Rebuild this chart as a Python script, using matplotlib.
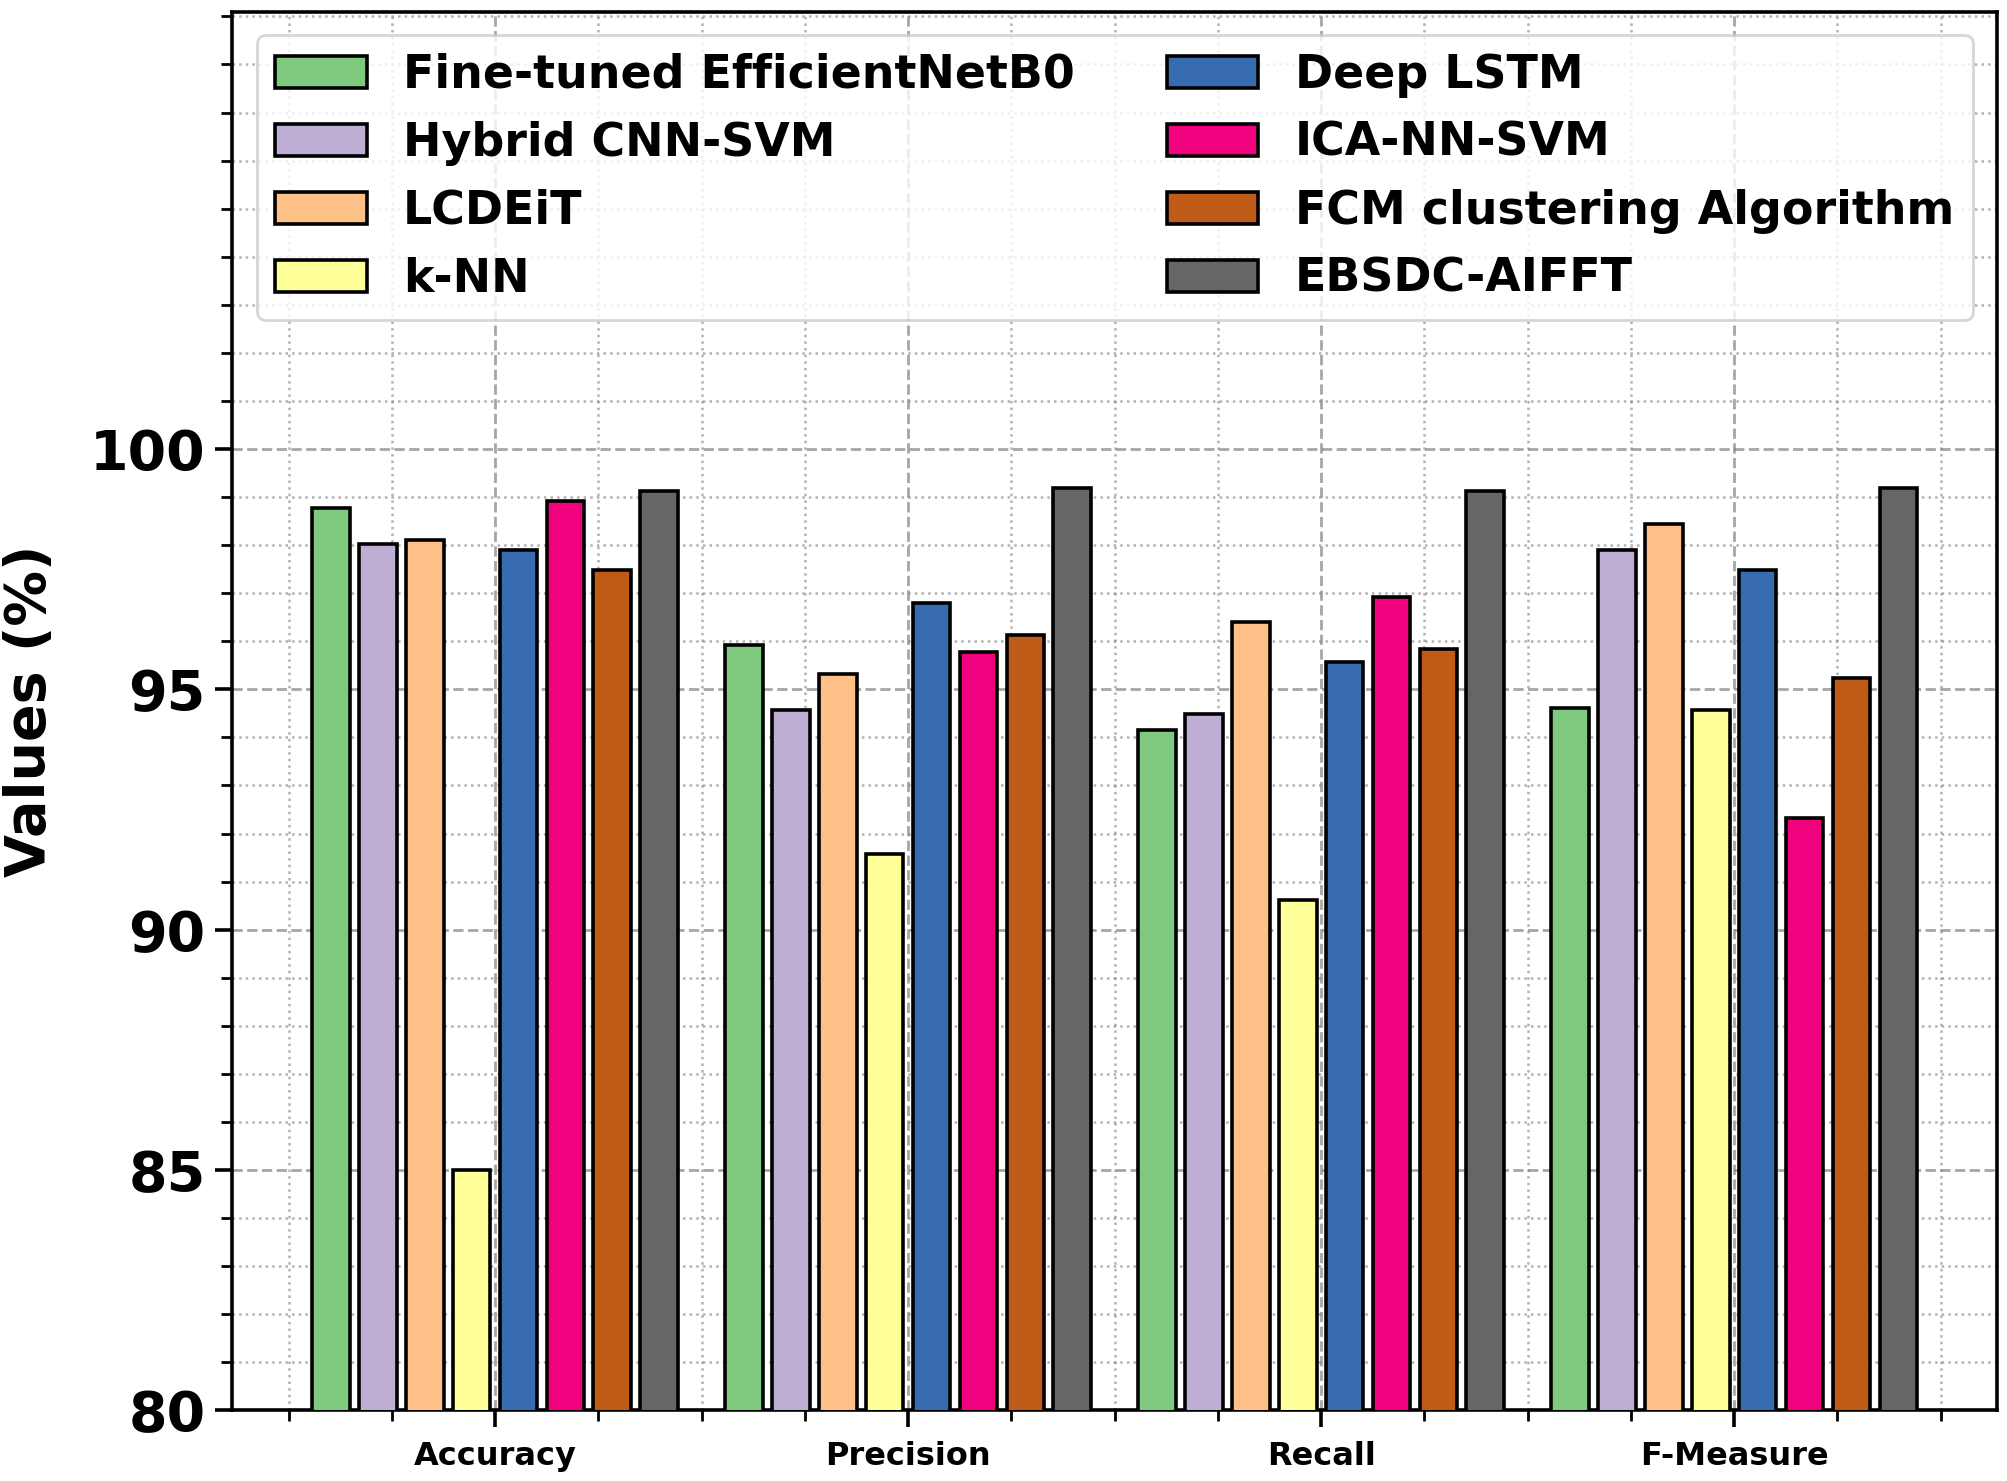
import numpy as np
import matplotlib
matplotlib.use("Agg")
import matplotlib.pyplot as plt
from matplotlib.ticker import AutoMinorLocator

categories = ["Accuracy", "Precision", "Recall", "F-Measure"]
methods = ["Fine-tuned EfficientNetB0", "Hybrid CNN-SVM", "LCDEiT", "k-NN",
           "Deep LSTM", "ICA-NN-SVM", "FCM clustering Algorithm", "EBSDC-AIFFT"]

efficientnet = [98.77, 95.92, 94.16, 94.62]
hybrid_cnn_svm = [98.03, 94.56, 94.49, 97.89]
lcdeit = [98.10, 95.31, 96.40, 98.43]
knn = [85.00, 91.57, 90.62, 94.56]
deep_lstm = [97.89, 96.80, 95.57, 97.48]
ica_nn_svm = [98.91, 95.78, 96.93, 92.32]
fcm = [97.49, 96.13, 95.84, 95.24]
ebsdc_aifft = [99.12, 99.18, 99.12, 99.18]

series = [efficientnet, hybrid_cnn_svm, lcdeit, knn, deep_lstm, ica_nn_svm, fcm, ebsdc_aifft]
colors = ["#7fc97f", "#beaed4", "#fdc086", "#ffff99", "#386cb0", "#f0027f", "#bf5b17", "#666666"]
yticks = [80, 85, 90, 95, 100]

plt.rcParams["font.family"] = ["DejaVu Sans"]
plt.rcParams["font.weight"] = "bold"

fig = plt.figure(figsize=(10.04, 7.405), dpi=200)
ax = fig.add_axes([0.1155, 0.0477, 0.9947 - 0.1155, 0.9921 - 0.0477])

x = np.arange(len(categories))
slot = 0.1135
width = 0.091
n = len(series)
for i, (vals, name, c) in enumerate(zip(series, methods, colors)):
    ax.bar(x + (i - (n - 1) / 2) * slot, vals, width=width, color=c,
           edgecolor="black", linewidth=1.3, label=name, zorder=3)

ax.set_ylim(80, max(max(s) for s in series) * 1.1)
ax.set_yticks(yticks)
ax.yaxis.set_minor_locator(AutoMinorLocator(5))
ax.set_xticks(x)
ax.set_xticklabels(categories, fontsize=11.5, fontweight="bold")
ax.xaxis.set_minor_locator(AutoMinorLocator(4))
for lab in ax.get_yticklabels():
    lab.set_fontsize(20)
    lab.set_fontweight("bold")
ax.set_ylabel("Values (%)", fontsize=20, fontweight="bold", labelpad=12)

ax.tick_params(axis="both", which="major", length=6, width=1.3)
ax.tick_params(axis="both", which="minor", length=4, width=1.0)
ax.tick_params(axis="x", which="major", pad=5)

ax.grid(which="major", linestyle="--", color="gray", linewidth=1.0, alpha=0.7)
ax.grid(which="minor", linestyle=":", color="gray", linewidth=0.9, alpha=0.6)
ax.set_axisbelow(True)
for sp in ax.spines.values():
    sp.set_linewidth(1.3)
    sp.set_color("black")

leg = ax.legend(loc="upper center", ncol=2, prop={"size": 16.5, "weight": "bold"},
                fancybox=True, framealpha=0.8)

fig.savefig("out.png", dpi=200)
